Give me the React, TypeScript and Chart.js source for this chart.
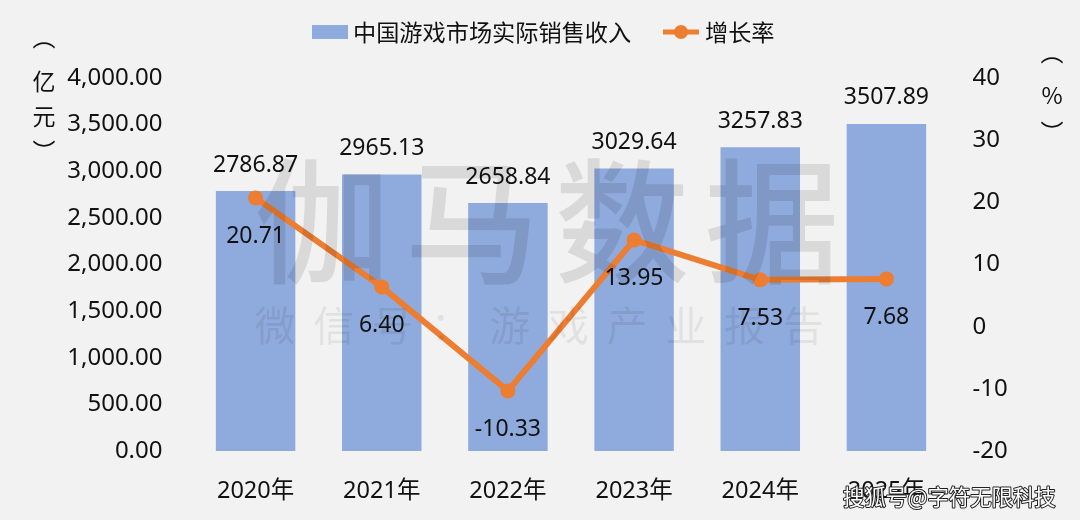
import { useEffect, useRef } from 'react';
import { Chart, registerables } from 'chart.js';

Chart.register(...registerables);

const years = ['2020年', '2021年', '2022年', '2023年', '2024年', '2025年'];
const revenue = [2786.87, 2965.13, 2658.84, 3029.64, 3257.83, 3507.89];
const growth = [20.71, 6.4, -10.33, 13.95, 7.53, 7.68];
const revenueName = '中国游戏市场实际销售收入';
const growthName = '增长率';
const leftTitle = ['︵', '亿', '元', '︶'];
const rightTitle = ['︵', '%', '︶'];

const FONT = '"Noto Sans", "Noto Sans CJK SC", sans-serif';
const CJK = '"Noto Sans CJK SC", sans-serif';
const BAR = '#8faadc';
const LINE = '#ed7d31';
const INK = '#111111';

function spaced(ctx: CanvasRenderingContext2D, chars: string, x0: number, step: number, y: number) {
  Array.from(chars).forEach((c, i) => ctx.fillText(c, x0 + i * step, y));
}

const overlay = {
  id: 'overlay',
  afterDraw(chart: any) {
    const { ctx, scales } = chart;
    ctx.save();
    ctx.textBaseline = 'middle';
    ctx.textAlign = 'center';
    ctx.fillStyle = INK;

    // data labels
    ctx.font = `23px ${FONT}`;
    years.forEach((y, i) => {
      const x = scales.x.getPixelForValue(i);
      ctx.fillText(revenue[i].toFixed(2), x, scales.y.getPixelForValue(revenue[i]) - 26);
      ctx.fillText(growth[i].toFixed(2), x, scales.y1.getPixelForValue(growth[i]) + 39);
    });

    // stacked axis titles
    ctx.font = `23px ${CJK}`;
    [37, 81, 116, 151].forEach((y, i) => ctx.fillText(leftTitle[i], 44, y));
    [52, 95, 132].forEach((y, i) => ctx.fillText(rightTitle[i], 1052, y));

    // legend
    ctx.fillStyle = BAR;
    ctx.fillRect(312, 25, 36, 14);
    ctx.strokeStyle = LINE;
    ctx.lineWidth = 5;
    ctx.beginPath();
    ctx.moveTo(663, 32);
    ctx.lineTo(699, 32);
    ctx.stroke();
    ctx.fillStyle = LINE;
    ctx.beginPath();
    ctx.arc(681, 32, 7, 0, Math.PI * 2);
    ctx.fill();
    ctx.fillStyle = INK;
    ctx.textAlign = 'left';
    ctx.font = `23.2px ${CJK}`;
    ctx.fillText(revenueName, 353, 32);
    ctx.fillText(growthName, 705, 32);

    // watermarks
    ctx.textAlign = 'center';
    ctx.fillStyle = 'rgba(0,0,0,0.1)';
    ctx.font = `500 135px ${CJK}`;
    spaced(ctx, '伽马数据', 322, 150, 222);
    ctx.fillStyle = 'rgba(0,0,0,0.07)';
    ctx.font = `41px ${CJK}`;
    spaced(ctx, '微信号：游戏产业报告', 275, 58.7, 325);

    ctx.lineJoin = 'round';
    ctx.font = `21.4px ${CJK}`;
    ctx.textAlign = 'left';
    ctx.strokeStyle = '#222222';
    ctx.lineWidth = 2;
    ctx.strokeText('搜狐号@字符无限科技', 843, 497);
    ctx.fillStyle = '#ffffff';
    ctx.fillText('搜狐号@字符无限科技', 843, 497);
    ctx.restore();
  },
};

export default function App() {
  const canvasRef = useRef<HTMLCanvasElement>(null);

  useEffect(() => {
    document.body.style.margin = '0';
    document.body.style.background = '#f2f2f2';
    if (!canvasRef.current) return;

    const chart = new Chart(canvasRef.current, {
      type: 'bar',
      data: {
        labels: years,
        datasets: [
          {
            type: 'line',
            label: growthName,
            data: growth,
            yAxisID: 'y1',
            borderColor: LINE,
            backgroundColor: LINE,
            borderWidth: 6,
            pointRadius: 7.5,
            pointBorderWidth: 0,
            tension: 0,
            order: 1,
          },
          {
            type: 'bar',
            label: revenueName,
            data: revenue,
            yAxisID: 'y',
            backgroundColor: BAR,
            barPercentage: 0.63,
            categoryPercentage: 1,
            order: 2,
          },
        ],
      },
      options: {
        animation: false,
        responsive: false,
        layout: { padding: { top: 78, bottom: 0, left: 0, right: 0 } },
        plugins: { legend: { display: false }, tooltip: { enabled: false } },
        scales: {
          x: {
            grid: { display: false },
            border: { display: false },
            ticks: { color: INK, font: { family: FONT, size: 23.5 }, padding: 18, maxRotation: 0 },
            afterFit: (s: any) => { s.height = 69; },
          },
          y: {
            position: 'left',
            min: 0,
            max: 4000,
            grid: { display: false },
            border: { display: false },
            ticks: {
              stepSize: 500,
              color: INK,
              padding: 22,
              font: { family: FONT, size: 24 },
              callback: (v: any) => Number(v).toLocaleString('en-US', { minimumFractionDigits: 2 }),
            },
            afterFit: (s: any) => { s.width = 192.5; },
          },
          y1: {
            position: 'right',
            min: -20,
            max: 40,
            grid: { display: false },
            border: { display: false },
            ticks: { stepSize: 10, color: INK, padding: 15, font: { family: FONT, size: 24 } },
            afterFit: (s: any) => { s.width = 130.5; },
          },
        },
      },
      plugins: [overlay],
    });

    return () => chart.destroy();
  }, []);

  return <canvas ref={canvasRef} width={1080} height={520} style={{ display: 'block', background: '#f2f2f2' }} />;
}
